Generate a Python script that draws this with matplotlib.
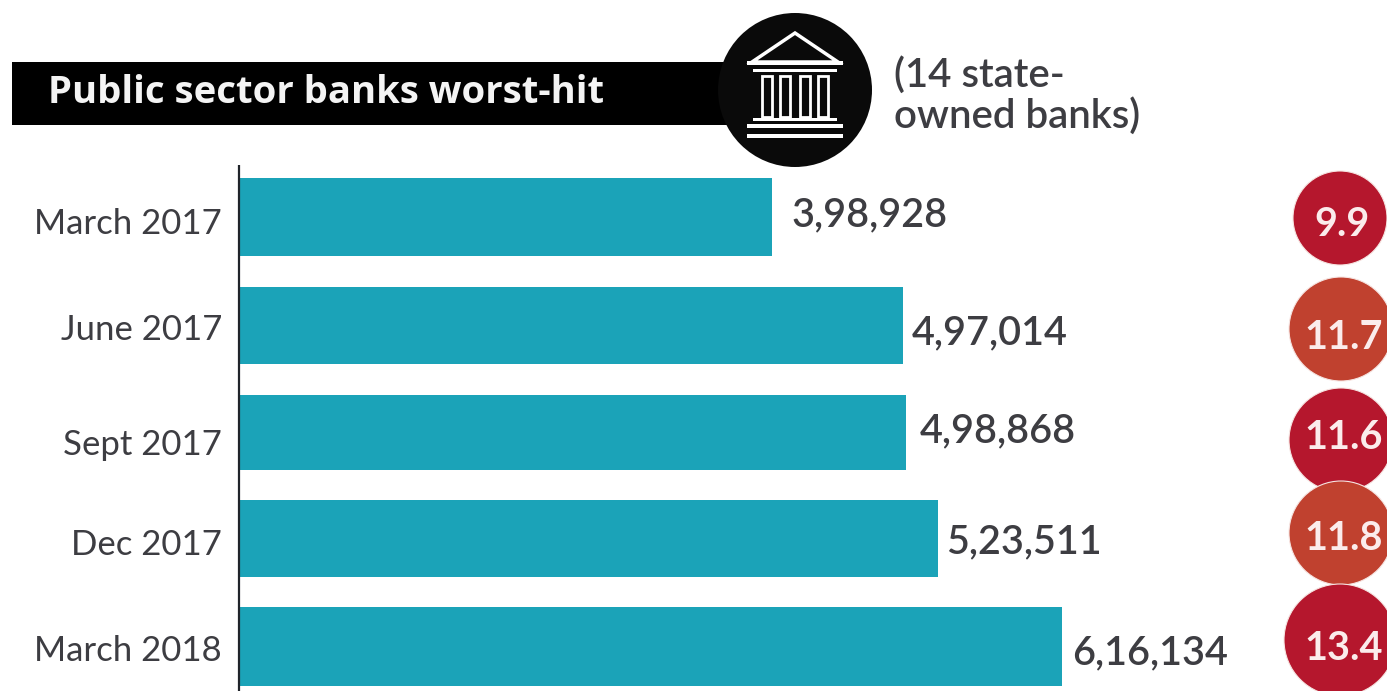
import matplotlib
matplotlib.use('Agg')
import matplotlib.pyplot as plt
from matplotlib.patches import Circle, Polygon, Rectangle

W, H = 1387, 691

# gross NPAs in Rs crore, and as a percentage of advances
quarters = ['March 2017', 'June 2017', 'Sept 2017', 'Dec 2017', 'March 2018']
npa_values = [398928, 497014, 498868, 523511, 616134]
npa_labels = ['3,98,928', '4,97,014', '4,98,868', '5,23,511', '6,16,134']
npa_ratio = ['9.9', '11.7', '11.6', '11.8', '13.4']

# layout, in pixels
bar_top = [178, 287, 395, 500, 607]
bar_bottom = [256, 364, 470, 577, 686]
name_y = [224, 330, 445, 545, 651]
value_gap = [19, 9, 14, 8, 10]
value_y = [215, 333, 431, 542, 653]
bubble_y = [218, 329, 440, 533, 640]
bubble_r = [47, 52, 52, 52, 56]
bubble_x = [1340, 1341, 1341, 1341, 1340]
bubble_text_x = [1342, 1344, 1344, 1344, 1344]
bubble_text_y = [224, 337, 437, 538, 648]
bubble_col = ['#b5172d', '#c0412f', '#b5172d', '#c0412f', '#b5172d']

TEAL = '#1ba3b8'
DARK = '#3d3d42'
FONT = 'Lato'
px_per_unit = 822 / 616134

fig = plt.figure(figsize=(W / 100, H / 100), dpi=100, facecolor='white')

# bars: x axis in rupees, y axis in pixels
ax = fig.add_axes([240 / W, 0, (W - 240) / W, 1])
ax.set_xlim(0, (W - 240) / px_per_unit)
ax.set_ylim(H, 0)
ax.axis('off')
for i in range(len(quarters)):
    ax.barh((bar_top[i] + bar_bottom[i]) / 2, npa_values[i],
            height=bar_bottom[i] - bar_top[i], color=TEAL, linewidth=0)
    ax.text(npa_values[i] + value_gap[i] / px_per_unit, value_y[i], npa_labels[i],
            ha='left', va='center', fontsize=28.5, color=DARK, family=FONT, fontweight='semibold')

# everything else sits on a pixel grid
bg = fig.add_axes([0, 0, 1, 1], zorder=2)
bg.set_xlim(0, W)
bg.set_ylim(H, 0)
bg.axis('off')
bg.patch.set_alpha(0)

bg.plot([239, 239], [165, 691], color='#20242a', lw=1.6, solid_capstyle='butt')
for i, q in enumerate(quarters):
    bg.text(222, name_y[i], q, ha='right', va='center', fontsize=25, color=DARK, family=FONT)

# title band
bg.add_patch(Rectangle((12, 62), 750, 63, color='black', lw=0))
bg.text(48, 93, 'Public sector banks worst-hit', ha='left', va='center',
        fontsize=27.5, color='#f4f4f4', family='Open Sans', fontweight='bold')
bg.text(894, 95, '(14 state-\nowned banks)', ha='left', va='center', fontsize=29,
        color=DARK, family=FONT, fontweight='semibold', linespacing=1.1)

# bank building icon
bg.add_patch(Circle((795, 90), 77, color='#0a0a0a', lw=0))
bg.add_patch(Polygon([(795, 33), (752, 62), (838, 62)], closed=True, fc='#0a0a0a', ec='white', lw=2.5))
bg.add_patch(Rectangle((747, 61), 96, 4, color='white', lw=0))
bg.add_patch(Rectangle((753, 69), 84, 3, color='white', lw=0))
for cx in [767, 785, 805, 823]:
    bg.add_patch(Rectangle((cx - 5, 76), 10, 41, fc='#0a0a0a', ec='white', lw=2))
bg.add_patch(Rectangle((753, 118), 84, 3, color='white', lw=0))
bg.add_patch(Rectangle((747, 124), 96, 4, color='white', lw=0))
bg.add_patch(Rectangle((747, 134), 96, 4, color='white', lw=0))

# ratio bubbles, the later ones overlap the earlier ones
for i in range(len(npa_ratio)):
    bg.add_patch(Circle((bubble_x[i], bubble_y[i]), bubble_r[i], fc=bubble_col[i],
                        ec='#f6e4e1', lw=0.8, zorder=3 + i))
    bg.text(bubble_text_x[i], bubble_text_y[i], npa_ratio[i], ha='center', va='center', fontsize=28.5,
            color='#fbecec', family=FONT, fontweight='bold', zorder=10)

fig.savefig('out.png', dpi=100)
